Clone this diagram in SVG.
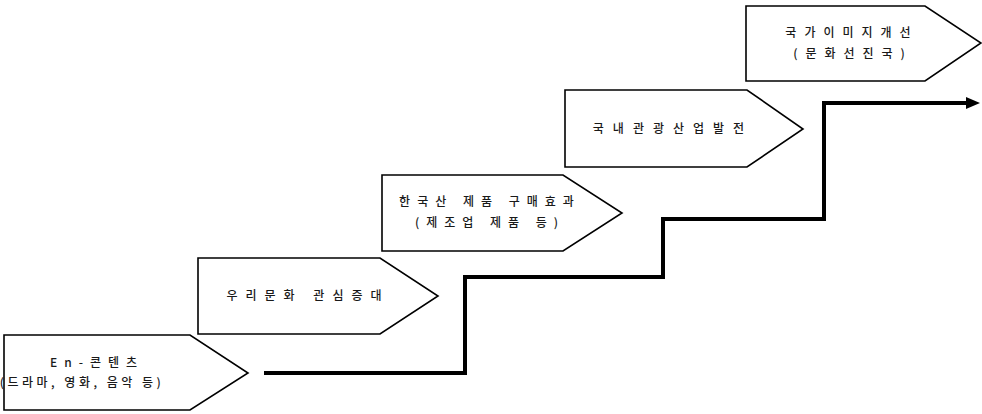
<svg xmlns="http://www.w3.org/2000/svg" width="982" height="414" viewBox="0 0 982 414">
<style>
.box{fill:#fff;stroke:#000;stroke-width:1.6;stroke-linejoin:miter}
.t{font-family:"Noto Sans CJK KR","Noto Sans",sans-serif;font-size:12px;fill:#1a1a1a;text-anchor:middle;letter-spacing:7px;font-weight:500}
.conn{fill:none;stroke:#000;stroke-width:4;stroke-linejoin:miter}
</style>
<defs>
<marker id="arr" markerUnits="userSpaceOnUse" markerWidth="16" markerHeight="14" refX="2" refY="7" orient="auto">
<path d="M0,1 L14,7 L0,13 Z" fill="#000"/>
</marker>
</defs>
<rect width="982" height="414" fill="#fff"/>
<g id="connectors">
<path class="conn" d="M264,373 H465 V277 H663 V219 H824 V103 H968" marker-end="url(#arr)"/>
</g>
<g id="node1">
<polygon class="box" points="4,335 190,335 248,373 190,410 4,410"/>
<text class="t" x="97" y="367">En-콘텐츠</text>
<text class="t" x="82" y="387" style="letter-spacing:3.5px">(드라마, 영화, 음악 등)</text>
</g>
<g id="node2">
<polygon class="box" points="198,258 380,258 438,296 380,334 198,334"/>
<text class="t" x="308" y="300" style="letter-spacing:8px">우리문화 관심증대</text>
</g>
<g id="node3">
<polygon class="box" points="382,175 563,175 622,213 563,251 382,251"/>
<text class="t" x="490" y="206">한국산 제품 구매효과</text>
<text class="t" x="490" y="227">(제조업 제품 등)</text>
</g>
<g id="node4">
<polygon class="box" points="565,90 747,90 803,129 747,167 565,167"/>
<text class="t" x="673" y="133" style="letter-spacing:9px">국내관광산업발전</text>
</g>
<g id="node5">
<polygon class="box" points="746,6 925,6 981,43 925,81 746,81"/>
<text class="t" x="852" y="37" style="letter-spacing:8px">국가이미지개선</text>
<text class="t" x="853" y="58" style="letter-spacing:8px">(문화선진국)</text>
</g>
</svg>
